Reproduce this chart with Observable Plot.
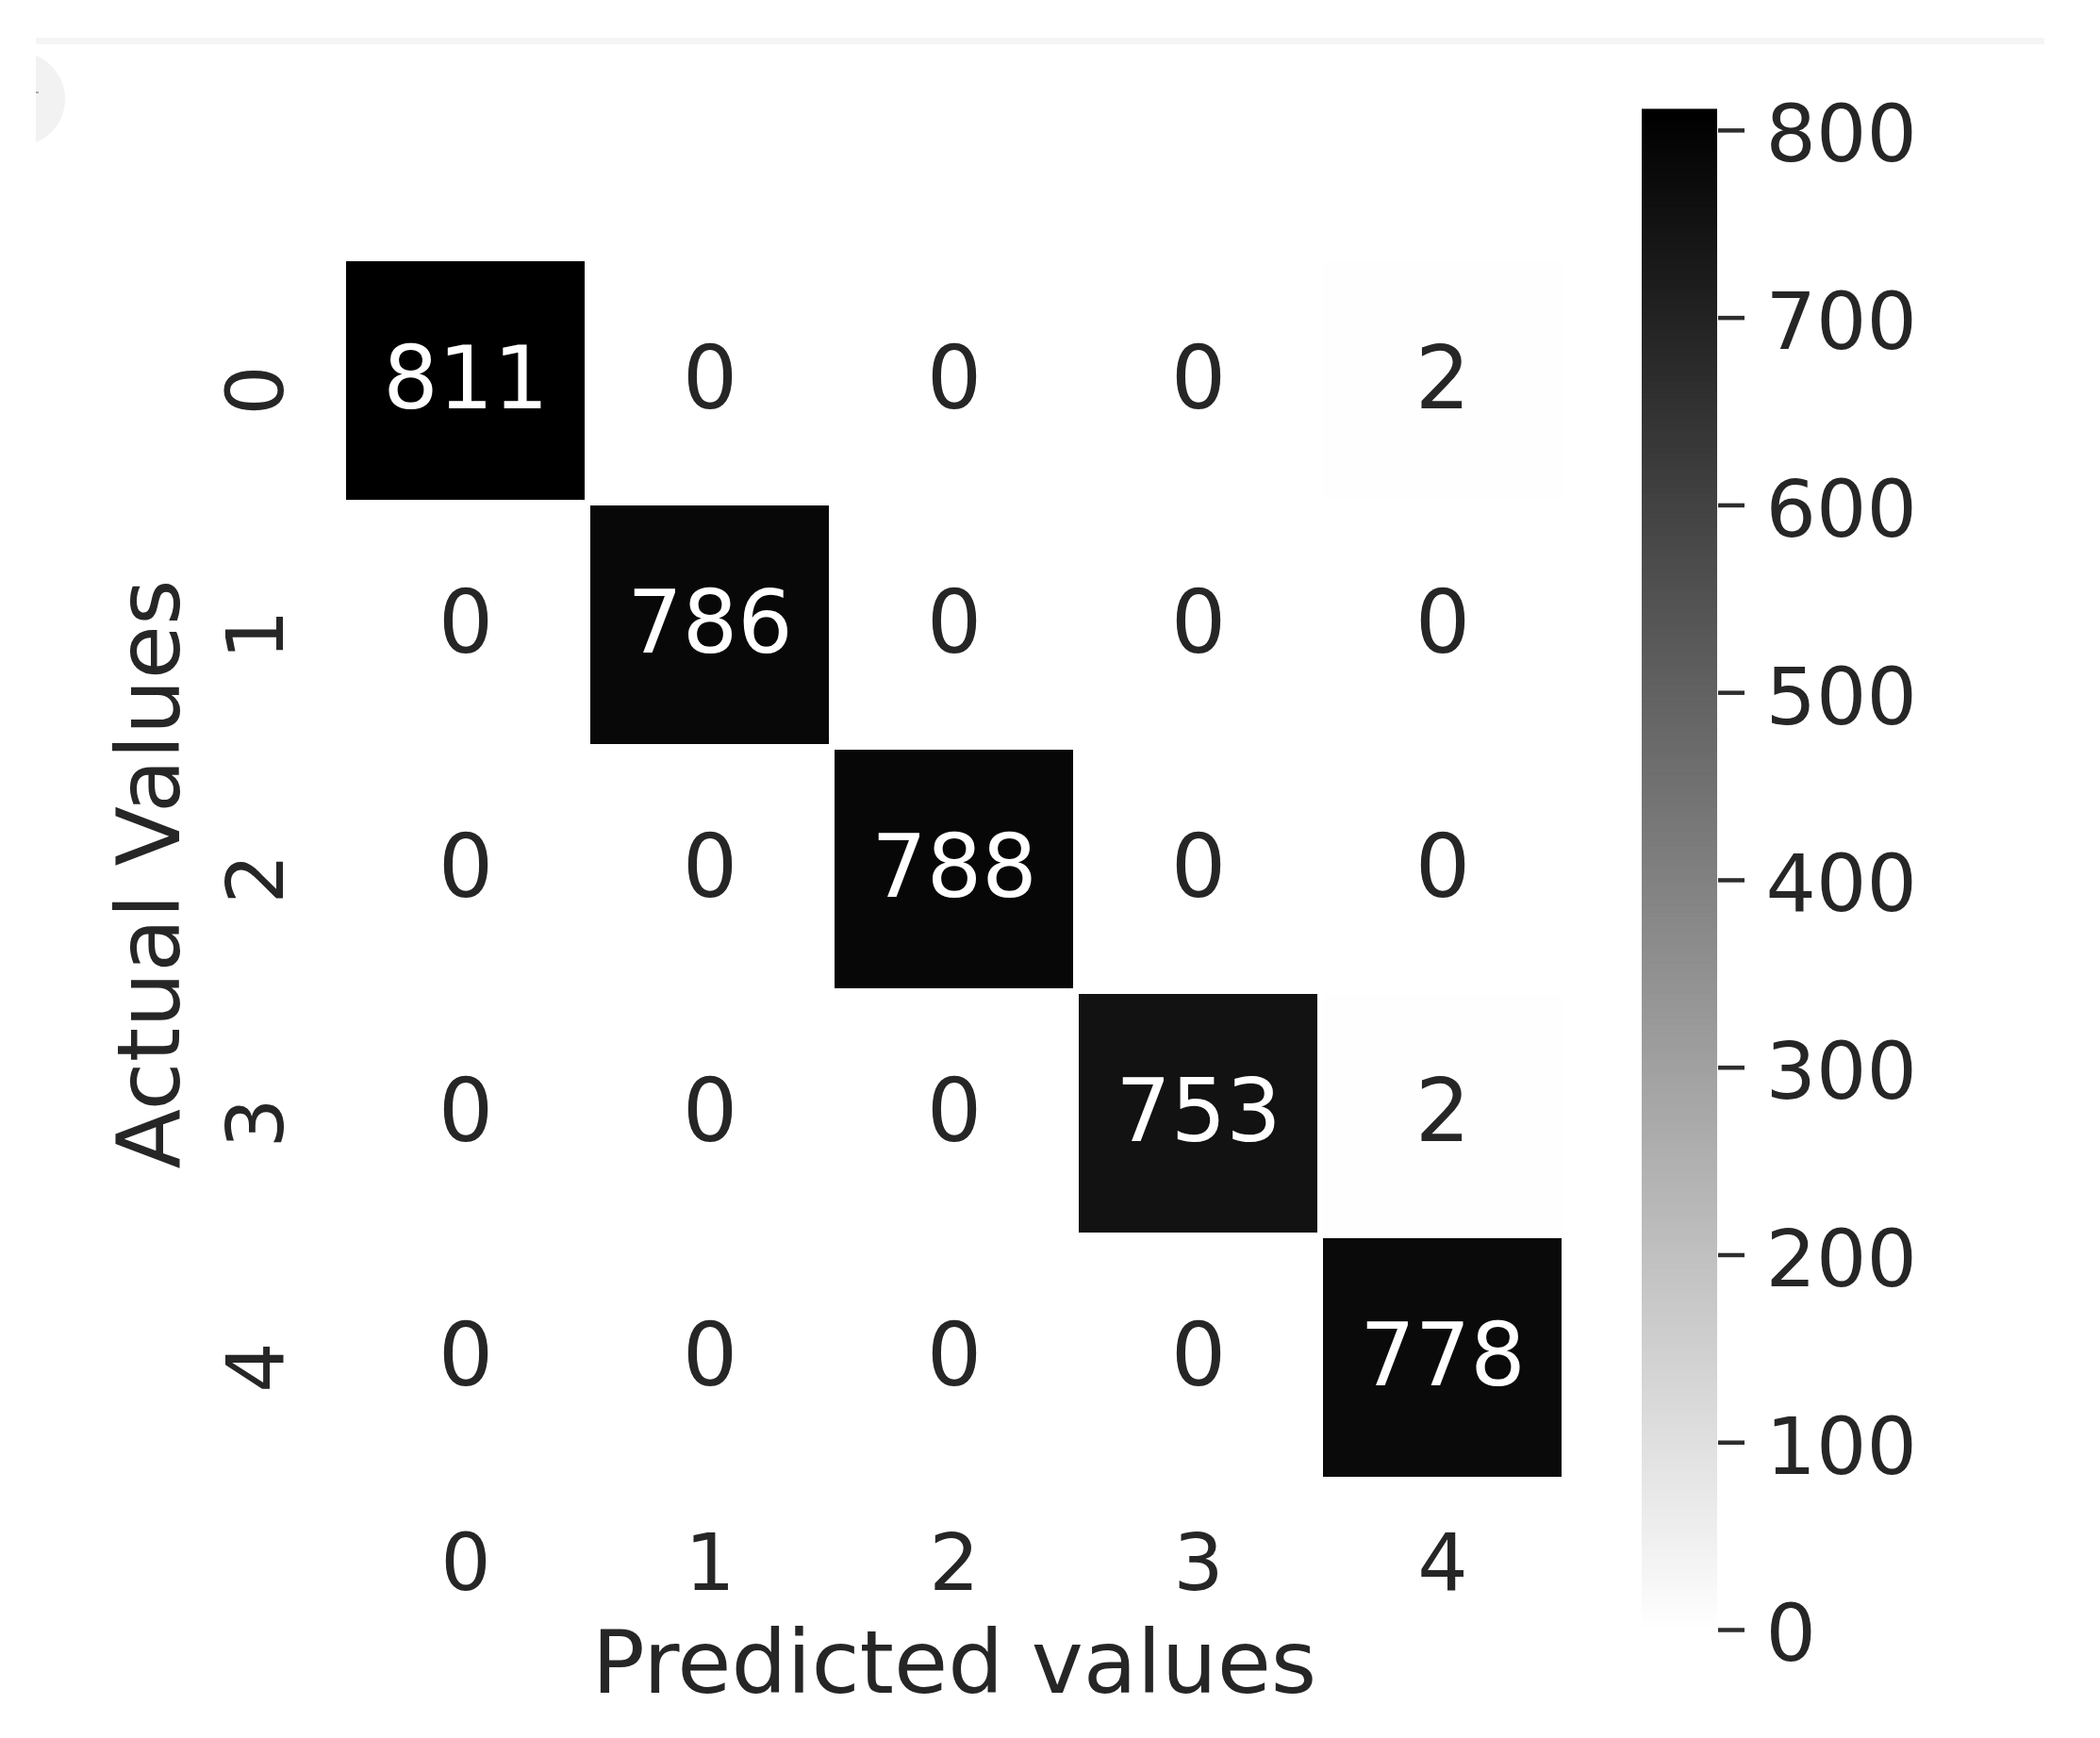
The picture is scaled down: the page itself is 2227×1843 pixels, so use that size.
<!DOCTYPE html>
<html>
<head>
<meta charset="utf-8">
<script src="https://cdn.jsdelivr.net/npm/d3@7"></script>
<script src="https://cdn.jsdelivr.net/npm/@observablehq/plot@0.6"></script>
<style>
  html, body { margin: 0; padding: 0; background: #ffffff; }
  #wrap { position: relative; width: 2227px; height: 1843px; overflow: hidden; background: #ffffff; font-family: "DejaVu Sans", sans-serif; }
  #wrap svg { position: absolute; top: 0; }
  #topline { position: absolute; left: 38px; top: 40px; width: 2130px; height: 7px; background: #f5f5f5; }
  #circclip { position: absolute; left: 38px; top: 55px; width: 40px; height: 100px; overflow: hidden; }
  #circ { position: absolute; left: -69px; top: 0px; width: 100px; height: 100px; border-radius: 50%; background: #f2f2f2; }
  #dash { position: absolute; left: 38px; top: 97px; width: 3px; height: 2px; background: #aaaaaa; }
</style>
</head>
<body>
<div id="wrap">
  <div id="topline"></div>
  <div id="circclip"><div id="circ"></div></div>
  <div id="dash"></div>
</div>
<script>
// ---- data ----
const classLabels = ["0", "1", "2", "3", "4"];
const row0 = [811, 0, 0, 0, 2];
const row1 = [0, 786, 0, 0, 0];
const row2 = [0, 0, 788, 0, 0];
const row3 = [0, 0, 0, 753, 2];
const row4 = [0, 0, 0, 0, 778];
const colorbarTicks = [0, 100, 200, 300, 400, 500, 600, 700, 800];
const xTitle = "Predicted values";
const yTitle = "Actual Values";

const rows = [row0, row1, row2, row3, row4];
const table = [];
rows.forEach((r, i) => r.forEach((v, j) => table.push({actual: classLabels[i], pred: classLabels[j], value: v})));
const vmax = d3.max(table, d => d.value);
const vmin = 0;

const colorScale = {type: "linear", domain: [vmin, vmax], range: ["#ffffff", "#000000"], interpolate: "rgb"};
const textColor = "#262626";
const annotSize = 92, labelSize = 93, tickSize = 84;

const W = 2227, H = 1843;
const frameLeft = 363, frameRight = 1660, frameTop = 273, frameBottom = 1570;

const main = Plot.plot({
  width: W,
  height: H,
  marginLeft: frameLeft,
  marginRight: W - frameRight,
  marginTop: frameTop,
  marginBottom: H - frameBottom,
  style: {fontFamily: "DejaVu Sans", background: "transparent", overflow: "visible"},
  x: {domain: classLabels, padding: 0, axis: null},
  y: {domain: classLabels, padding: 0, axis: null},
  color: colorScale,
  marks: [
    Plot.cell(table, {x: "pred", y: "actual", fill: "value", inset: 3}),
    Plot.text(table, {
      x: "pred", y: "actual",
      text: d => String(d.value),
      fill: d => (d.value > vmax / 2 ? "#ffffff" : textColor),
      fontSize: annotSize, lineAnchor: "middle"
    }),
    Plot.axisX({anchor: "bottom", tickSize: 0, tickPadding: 56, fontSize: tickSize, label: null, color: textColor}),
    Plot.text(classLabels, {
      y: d => d, frameAnchor: "left", dx: -90, dy: 10, rotate: -90,
      fontSize: tickSize, fill: textColor, lineAnchor: "middle", textAnchor: "middle"
    }),
    Plot.text([xTitle], {
      text: d => d, frameAnchor: "bottom", dy: 195, fontSize: labelSize,
      fill: textColor, lineAnchor: "middle", textAnchor: "middle"
    }),
    Plot.text([yTitle], {
      text: d => d, frameAnchor: "left", dx: -203, dy: 5, rotate: -90, fontSize: labelSize,
      fill: textColor, lineAnchor: "middle", textAnchor: "middle"
    })
  ]
});
main.style.left = "0px";
document.getElementById("wrap").appendChild(main);

// ---- colorbar ----
const cbLeft = 1741, cbWidth = 80;
const cbW = W - cbLeft;
const steps = d3.range(vmin, vmax);
const colorbar = Plot.plot({
  width: cbW,
  height: H,
  marginLeft: 0,
  marginRight: cbW - cbWidth,
  marginTop: 116,
  marginBottom: H - 1728,
  style: {fontFamily: "DejaVu Sans", background: "transparent", overflow: "visible"},
  y: {domain: [vmin, vmax], range: [1728, 116], axis: null},
  color: colorScale,
  marks: [
    Plot.rectY(steps, {y1: d => d, y2: d => Math.min(d + 1, vmax), fill: d => d + 0.5, insetTop: -0.6, insetBottom: -0.6}),
    Plot.axisY(colorbarTicks, {
      anchor: "right", tickSize: 28, strokeWidth: 4.5, color: "#2e2e2e", text: null, label: null
    }),
    Plot.axisY(colorbarTicks, {
      anchor: "right", tickSize: 0, tickPadding: 51, dy: 6, fontSize: tickSize,
      color: textColor, label: null
    })
  ]
});
colorbar.style.left = cbLeft + "px";
document.getElementById("wrap").appendChild(colorbar);
</script>
</body>
</html>
